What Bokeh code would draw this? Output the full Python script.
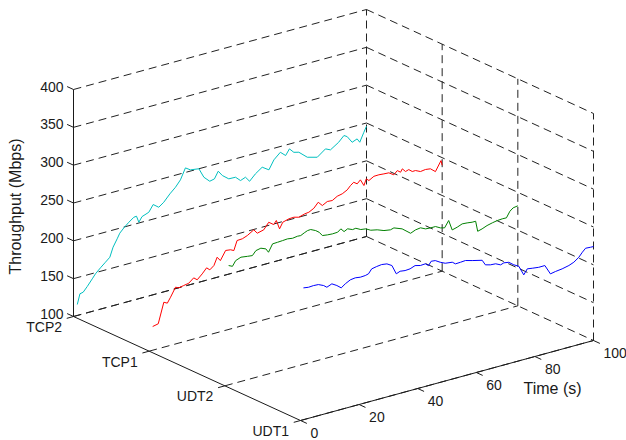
import numpy as np
from bokeh.plotting import figure
from bokeh.models import Range1d, Label
from bokeh.core.properties import value
from bokeh.embed import file_html
from bokeh.resources import INLINE

# ---------------- data ----------------
categories = ["UDT1", "UDT2", "TCP1", "TCP2"]
time_ticks = [0, 20, 40, 60, 80, 100]
thr_ticks = [100, 150, 200, 250, 300, 350, 400]
series_colors = ["#0000FF", "#008000", "#FF0000", "#00BFBF"]

udt1_t = [1.0, 2.7, 4.4, 6.1, 7.9, 9.0, 10.7, 12.4, 13.9, 15.3, 17.0, 18.7, 20.4, 22.1, 23.2, 24.3,
          26.0, 27.7, 29.5, 31.2, 32.7, 34.0, 35.7, 37.4, 39.1, 40.9, 42.6, 43.7, 44.6, 46.0, 47.7,
          49.4, 51.8, 52.9, 54.6, 56.3, 58.6, 62.0, 63.1, 64.8, 66.6, 68.3, 69.4, 71.1, 72.8, 74.5,
          76.2, 77.4, 79.1, 81.3, 83.4, 85.3, 87.0, 89.3, 91.6, 93.3, 95.0, 96.2, 97.3, 99.0, 100.0]
udt1_v = [274.2, 273.2, 273.6, 273.2, 270.0, 266.6, 269.3, 265.3, 260.6, 264.5, 267.9, 268.8, 267.8,
          268.2, 269.3, 274.7, 276.0, 276.8, 275.8, 271.8, 259.3, 261.3, 260.4, 260.9, 263.4, 261.6,
          262.0, 258.5, 263.3, 262.7, 258.7, 255.6, 254.4, 251.1, 251.4, 251.9, 249.4, 246.2, 239.0,
          237.2, 236.7, 233.5, 235.0, 233.9, 228.8, 225.1, 211.9, 218.6, 217.6, 216.5, 216.6, 203.6,
          204.9, 206.0, 208.0, 210.6, 215.3, 220.7, 224.8, 224.3, 224.2]

udt2_t = [1.3, 2.6, 3.7, 5.5, 7.7, 9.4, 10.6, 12.3, 14.0, 14.9, 16.3, 18.0, 19.7, 21.4, 23.1, 24.8,
          25.9, 27.1, 28.2, 29.3, 31.0, 32.2, 33.3, 35.0, 36.7, 38.5, 39.6, 40.7, 41.9, 43.6, 44.7,
          46.4, 48.1, 49.8, 52.0, 54.3, 56.5, 57.7, 60.5, 63.4, 65.1, 66.8, 68.5, 70.2, 71.9, 73.6,
          75.0, 76.4, 77.6, 79.3, 81.0, 82.7, 84.4, 85.6, 86.3, 87.8, 89.5, 91.3, 93.0, 94.7, 96.1,
          97.3, 98.4, 100.0]
udt2_v = [257.6, 255.2, 261.6, 264.2, 263.0, 262.2, 267.5, 268.9, 266.2, 260.8, 270.4, 270.7, 271.1,
          271.6, 270.6, 271.5, 271.2, 273.5, 275.3, 275.6, 272.4, 268.9, 263.4, 262.5, 262.0, 262.3,
          265.6, 260.8, 263.2, 260.4, 261.0, 257.5, 256.6, 253.0, 251.2, 247.8, 246.4, 247.7, 243.5,
          234.6, 237.3, 238.2, 235.0, 234.5, 234.5, 230.9, 229.5, 237.7, 224.0, 225.8, 228.4, 227.9,
          227.0, 227.0, 213.0, 214.6, 217.2, 218.9, 220.1, 220.6, 220.4, 227.9, 231.2, 232.2]

tcp1_t = [1.2, 3.1, 5.0, 6.2, 7.3, 9.0, 10.1, 11.8, 13.5, 15.2, 16.4, 18.1, 19.6, 20.7, 22.1, 23.2,
          24.3, 26.1, 27.8, 28.9, 30.0, 31.8, 33.5, 35.7, 36.9, 39.1, 40.8, 42.5, 43.4, 44.5, 45.6,
          47.7, 49.4, 51.1, 53.1, 54.5, 56.2, 57.7, 59.1, 60.8, 62.5, 64.2, 65.9, 67.6, 68.7, 69.8,
          71.0, 72.1, 73.3, 74.1, 75.0, 76.7, 78.4, 80.1, 81.8, 83.5, 84.7, 85.8, 86.4, 87.5, 88.6,
          89.8, 90.9, 92.6, 94.3, 96.0, 97.7, 99.6, 100.0]
tcp1_v = [131.3, 132.9, 159.4, 156.9, 163.6, 175.0, 173.0, 174.3, 175.5, 180.8, 177.0, 183.0, 189.4,
          185.6, 189.8, 199.6, 194.0, 205.5, 204.6, 202.4, 214.5, 214.9, 217.4, 222.6, 216.9, 219.0,
          227.2, 222.4, 226.8, 214.6, 222.2, 224.5, 224.8, 223.0, 225.3, 226.0, 229.4, 235.8, 230.0,
          233.5, 233.0, 236.9, 238.3, 241.7, 246.2, 249.4, 246.1, 250.2, 241.4, 249.4, 246.2, 250.0,
          250.2, 249.6, 249.2, 244.8, 249.1, 245.8, 249.6, 244.9, 246.3, 242.5, 242.6, 239.5, 240.4,
          239.5, 234.0, 246.5, 240.0]

tcp2_t = [1.3, 2.2, 3.3, 4.7, 6.4, 7.5, 9.2, 10.9, 12.4, 13.5, 14.9, 15.8, 17.2, 18.9, 20.6, 21.5,
          22.3, 23.4, 25.7, 27.2, 29.1, 30.8, 32.9, 34.8, 36.5, 38.2, 39.9, 42.8, 44.5, 46.5, 48.1,
          49.4, 50.8, 53.0, 55.3, 57.0, 58.7, 60.1, 62.1, 64.4, 66.7, 68.4, 70.6, 72.4, 73.7, 75.2,
          76.9, 79.8, 83.2, 86.0, 87.7, 90.5, 92.3, 93.4, 95.1, 96.8, 97.7, 99.1, 100.0]
tcp2_v = [114.5, 127.7, 128.6, 134.7, 143.0, 148.5, 154.6, 160.2, 165.2, 177.3, 186.9, 193.4, 199.0,
          204.6, 209.4, 209.8, 201.0, 207.3, 210.6, 219.2, 213.6, 218.4, 227.3, 234.0, 242.0, 256.0,
          251.6, 250.0, 237.0, 229.6, 231.0, 239.8, 232.6, 225.9, 225.6, 219.4, 222.0, 215.2, 222.9,
          229.2, 223.3, 234.7, 242.4, 236.2, 243.6, 237.5, 235.8, 226.1, 222.5, 230.6, 227.5, 234.6,
          241.6, 239.0, 229.7, 232.4, 227.0, 238.7, 245.8]

series_t = [udt1_t, udt2_t, tcp1_t, tcp2_t]
series_v = [udt1_v, udt2_v, tcp1_v, tcp2_v]

# ---------------- 3-D view (orthographic, picture pixels) ----------------
T_MIN, T_MAX = 0.0, 100.0
Z_MIN, Z_MAX = 100.0, 400.0
ORIGIN = (73.0, 316.0)     # t=0, last category (TCP2), z=100
T_VEC = (293.0, -80.0)     # full time span
C_VEC = (227.0, 104.0)     # TCP2 -> UDT1
Z_VEC = (0.0, -227.0)      # full throughput span
NC = len(categories)


def proj(t, ci, z):
    t = np.asarray(t, dtype=float)
    ci = np.asarray(ci, dtype=float)
    z = np.asarray(z, dtype=float)
    ft = (t - T_MIN) / (T_MAX - T_MIN)
    fc = (NC - 1 - ci) / (NC - 1)
    fz = (z - Z_MIN) / (Z_MAX - Z_MIN)
    x = ORIGIN[0] + ft * T_VEC[0] + fc * C_VEC[0] + fz * Z_VEC[0]
    y = ORIGIN[1] + ft * T_VEC[1] + fc * C_VEC[1] + fz * Z_VEC[1]
    return x, y


def unit(v):
    v = np.asarray(v, dtype=float)
    return v / np.hypot(*v)


W, H = 626, 440
p = figure(width=W, height=H, x_range=Range1d(0, W), y_range=Range1d(H, 0),
           x_axis_type=None, y_axis_type=None, toolbar_location=None,
           output_backend="svg", min_border=0)
p.outline_line_color = None
p.background_fill_color = "white"
p.border_fill_color = "white"

FONT = "Liberation Sans"
GRID_DASH = "8 5"

# ---------------- grid ----------------
gx, gy = [], []
ci_last = NC - 1
for z in thr_ticks:
    x, y = proj([T_MIN, T_MAX], [ci_last, ci_last], [z, z])
    gx.append(list(x)); gy.append(list(y))
    x, y = proj([T_MAX, T_MAX], [ci_last, 0], [z, z])
    gx.append(list(x)); gy.append(list(y))
for ci in range(NC):
    x, y = proj([T_MAX, T_MAX], [ci, ci], [Z_MIN, Z_MAX])
    gx.append(list(x)); gy.append(list(y))
    x, y = proj([T_MIN, T_MAX], [ci, ci], [Z_MIN, Z_MIN])
    gx.append(list(x)); gy.append(list(y))
p.multi_line(gx, gy, line_color="#222222", line_width=1, line_dash=GRID_DASH)

# ---------------- data lines ----------------
for ci in range(NC):
    x, y = proj(series_t[ci], [ci] * len(series_t[ci]), series_v[ci])
    p.line(x, y, line_color=series_colors[ci], line_width=1)

# ---------------- axes ----------------
ax_x, ax_y = [], []
x, y = proj([T_MIN, T_MIN], [ci_last, ci_last], [Z_MIN, Z_MAX]); ax_x.append(list(x)); ax_y.append(list(y))
x, y = proj([T_MIN, T_MIN], [ci_last, 0], [Z_MIN, Z_MIN]); ax_x.append(list(x)); ax_y.append(list(y))
x, y = proj([T_MIN, T_MAX], [0, 0], [Z_MIN, Z_MIN]); ax_x.append(list(x)); ax_y.append(list(y))
p.multi_line(ax_x, ax_y, line_color="#1a1a1a", line_width=1)

TICK = 7.0
uc = unit(C_VEC)
ut = unit(T_VEC)

zx, zy = proj([T_MIN] * len(thr_ticks), [ci_last] * len(thr_ticks), thr_ticks)
p.segment(zx, zy, zx - uc[0] * TICK, zy - uc[1] * TICK, line_color="#1a1a1a", line_width=1)
p.text(zx - 10, zy - 3, text=[str(v) for v in thr_ticks], text_font=value(FONT),
       text_font_size="14px", text_align="right", text_baseline="middle", text_color="#1a1a1a")

cis = list(range(NC))
cx, cy = proj([T_MIN] * NC, cis, [Z_MIN] * NC)
p.segment(cx, cy, cx - ut[0] * TICK, cy - ut[1] * TICK, line_color="#1a1a1a", line_width=1)
p.text(cx - 11.5, cy + 10.5, text=categories, text_font=value(FONT),
       text_font_size="14px", text_align="right", text_baseline="middle", text_color="#1a1a1a")

tx, ty = proj(time_ticks, [0] * len(time_ticks), [Z_MIN] * len(time_ticks))
p.segment(tx, ty, tx + uc[0] * TICK, ty + uc[1] * TICK, line_color="#1a1a1a", line_width=1)
p.text(tx + 10, ty + 12, text=[str(v) for v in time_ticks], text_font=value(FONT),
       text_font_size="14px", text_align="left", text_baseline="middle", text_color="#1a1a1a")

p.add_layout(Label(x=15, y=206, text="Throughput (Mbps)", angle=np.pi / 2,
                   text_align="center", text_baseline="middle", text_font=FONT,
                   text_font_size="16px", text_color="#1a1a1a"))
p.add_layout(Label(x=552, y=388, text="Time (s)", text_align="center", text_baseline="middle",
                   text_font=FONT, text_font_size="16px", text_color="#1a1a1a"))

open("out.html", "w").write(file_html(p, INLINE))
